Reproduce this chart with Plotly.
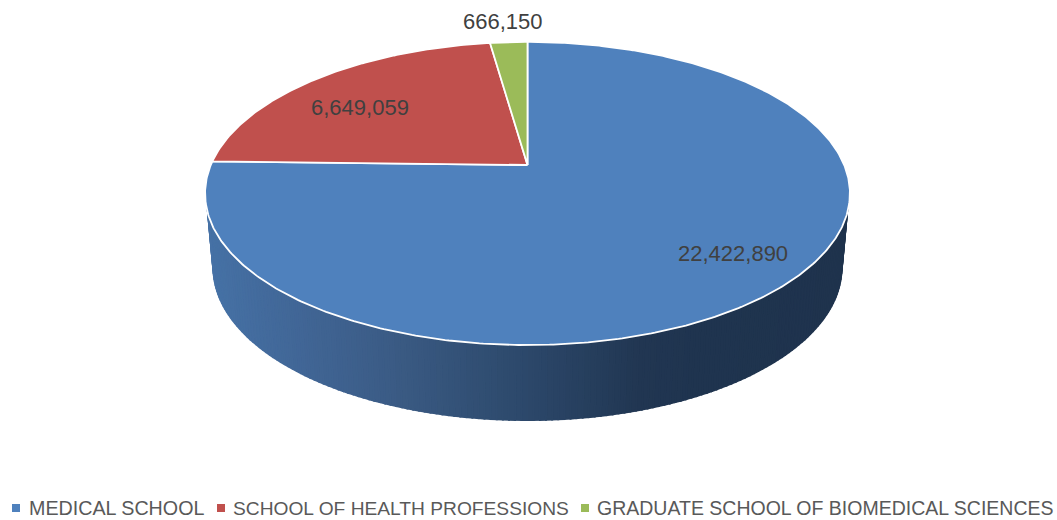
import math
import plotly.graph_objects as go

categories = ["MEDICAL SCHOOL", "SCHOOL OF HEALTH PROFESSIONS", "GRADUATE SCHOOL OF BIOMEDICAL SCIENCES"]
values = [22422890, 6649059, 666150]
colors = ["#4f81bd", "#c0504d", "#9bbb59"]
label_pos = [(733, 253), (360, 107), (503, 21)]
legend_marker_x = [16, 221, 585]
legend_text_x = [29, 233, 597]
legend_font_sizes = [19.7, 19.2, 19.5]

W, H = 1057, 520
CX, CY = 527.5, 165
A, B, K = 316.7, 146.2, 0.188
FONT = "Liberation Sans"
TEXT = "#595959"


def project(angle):
    u, v = math.sin(angle), -math.cos(angle)
    d = 1 - K * v
    return CX + A * u / d, CY + B * v / d


def mix(c1, c2, t):
    return "rgb(%d,%d,%d)" % tuple(round(a + (b - a) * t) for a, b in zip(c1, c2))


side_stops = [(205, (70, 114, 166)), (300, (65, 102, 150)), (400, (58, 90, 131)),
              (527, (44, 72, 106)), (640, (33, 54, 82)), (700, (31, 52, 79)), (850, (31, 51, 77))]


def side_color(x):
    for (x0, c0), (x1, c1) in zip(side_stops, side_stops[1:]):
        if x <= x1:
            return mix(c0, c1, (x - x0) / (x1 - x0))
    return mix(side_stops[-1][1], side_stops[-1][1], 0)


fig = go.Figure()

# side wall strips (top rim to bottom rim)
N = 160
TOP = (321.0, 151.5, 193.5)
BOT = (314.0, 152.0, 268.0)
for i in range(N):
    t0, t1 = math.pi * i / N, math.pi * (i + 1) / N
    xs, ys = [], []
    for t, (a, b, c) in ((t0, TOP), (t1, TOP), (t1, BOT), (t0, BOT), (t0, TOP)):
        xs.append(CX + a * math.cos(t))
        ys.append(c + b * math.sin(t))
    col = side_color(sum(xs[:4]) / 4)
    fig.add_trace(go.Scatter(x=xs, y=ys, mode="lines", fill="toself", fillcolor=col,
                             line=dict(color=col, width=2), hoverinfo="skip", showlegend=False))

# top slices, clockwise from 12 o'clock
total = sum(values)
start = 0.0
for name, val, col in zip(categories, values, colors):
    sweep = 2 * math.pi * val / total
    steps = max(4, int(sweep / 0.01))
    pts = [project(start + sweep * j / steps) for j in range(steps + 1)]
    xs = [CX] + [p[0] for p in pts] + [CX]
    ys = [CY] + [p[1] for p in pts] + [CY]
    fig.add_trace(go.Scatter(x=xs, y=ys, mode="lines", fill="toself", fillcolor=col, name=name,
                             line=dict(color="white", width=1.8), hoverinfo="name", showlegend=False))
    start += sweep

# legend swatches
fig.add_trace(go.Scatter(x=legend_marker_x, y=[508] * 3, mode="markers",
                         marker=dict(symbol="square", size=8, color=colors),
                         hoverinfo="skip", showlegend=False))

annotations = []
for val, (x, y) in zip(values, label_pos):
    annotations.append(dict(x=x, y=y, text=f"{val:,}", showarrow=False, xanchor="center", yanchor="middle",
                            font=dict(family=FONT, size=22, color="#404040")))
for name, x, size in zip(categories, legend_text_x, legend_font_sizes):
    annotations.append(dict(x=x, y=508, text=name, showarrow=False, xanchor="left", yanchor="middle",
                            xshift=-2, font=dict(family=FONT, size=size, color=TEXT)))

fig.update_layout(
    width=W, height=H, margin=dict(l=0, r=0, t=0, b=0),
    paper_bgcolor="white", plot_bgcolor="white", showlegend=False,
    xaxis=dict(range=[0, W], visible=False, fixedrange=True),
    yaxis=dict(range=[H, 0], visible=False, fixedrange=True),
    annotations=annotations,
)
fig.write_html("out.html", config=dict(displayModeBar=False),
               post_script="document.body.style.margin='0';document.body.style.overflow='hidden';")
